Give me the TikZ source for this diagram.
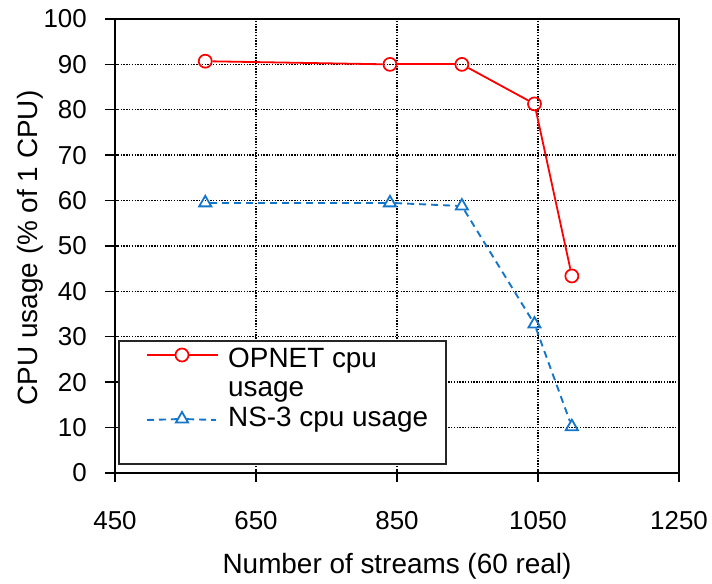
\documentclass[tikz,border=0pt]{standalone}
\usepackage{fontspec}
\setmainfont{Liberation Sans}
\usetikzlibrary{shapes.geometric}
\definecolor{nsblue}{RGB}{20,118,200}
\tikzset{
  gridline/.style={black, line width=1.4bp, dash pattern=on 1.4bp off 1.4bp},
  axisline/.style={black, line width=1.8bp},
  tickmark/.style={black, line width=1.4bp},
  ticklab/.style={font=\fontsize{26}{26}\selectfont, inner sep=0pt},
  axislab/.style={font=\fontsize{28}{28}\selectfont, inner sep=0pt},
  legtext/.style={font=\fontsize{28}{28}\selectfont, inner sep=0pt, anchor=base west},
  legendbox/.style={draw=black!85, line width=1.8bp, fill=white, inner sep=0pt, anchor=south west},
  opline/.style={red, line width=1.8bp},
  nsline/.style={nsblue, line width=1.9bp, dash pattern=on 7bp off 5bp},
  opmark/.style={circle, draw=red, line width=1.7bp, minimum size=13bp, inner sep=0pt},
  nsmark/.style={regular polygon, regular polygon sides=3, draw=nsblue, line width=1.8bp, minimum size=14bp, inner sep=0pt}
}
\begin{document}
\begin{tikzpicture}[x=1bp,y=1bp]
\useasboundingbox (0,0) rectangle (712,584);
\begin{scope}[shift={(-202.25,111)}, x=0.705bp, y=4.54bp]
  % grid
  \foreach \yy in {10,20,...,90} \draw[gridline] (450,\yy) -- (1250,\yy);
  \foreach \xx in {650,850,1050} \draw[gridline] (\xx,0) -- (\xx,100);
\end{scope}
% legend box
\node[legendbox, minimum width=327bp, minimum height=123bp] (legend) at (118,119) {};
\begin{scope}[shift={(-202.25,111)}, x=0.705bp, y=4.54bp]
  % frame
  \draw[axisline] (450,0) rectangle (1250,100);
  % ticks and labels
  \foreach \yy in {0,10,...,100} {
    \draw[tickmark] (450,\yy) ++(-10bp,0) -- ++(13bp,0);
    \node[ticklab, anchor=east] (yl\yy) at (450,\yy) [xshift=-28bp] {\yy};
  }
  \foreach \xx in {450,650,850,1050,1250} {
    \draw[tickmark] (\xx,0) ++(0,-9bp) -- ++(0,12bp);
    \node[ticklab, anchor=base] (xl\xx) at (\xx,0) [yshift=-57bp] {\xx};
  }
  % OPNET data
  \node[opmark] (o1) at (578,90.7) {};
  \node[opmark] (o2) at (840,90) {};
  \node[opmark] (o3) at (942,90) {};
  \node[opmark] (o4) at (1045,81.3) {};
  \node[opmark] (o5) at (1098,43.4) {};
  \draw[opline] (o1) -- (o2);
  \draw[opline] (o2) -- (o3);
  \draw[opline] (o3) -- (o4);
  \draw[opline] (o4) -- (o5);
  % NS-3 data
  \node[nsmark] (n1) at (578,59.5) {};
  \node[nsmark] (n2) at (840,59.5) {};
  \node[nsmark] (n3) at (942,58.8) {};
  \node[nsmark] (n4) at (1045,32.8) {};
  \node[nsmark] (n5) at (1098,10.2) {};
  \draw[nsline] (n1) -- (n2);
  \draw[nsline] (n2) -- (n3);
  \draw[nsline] (n3) -- (n4);
  \draw[nsline] (n4) -- (n5);
\end{scope}
% axis labels
\node[axislab, anchor=base] (xlabel) at (397,10) {Number of streams (60 real)};
\node[axislab, anchor=base, rotate=90] (ylabel) at (37,336) {CPU usage (\% of 1 CPU)};
% legend entries
\coordinate (la1) at (147,229);
\coordinate (lb1) at (218,229);
\node[opmark] (lm1) at (182,229) {};
\draw[opline] (la1) -- (lm1);
\draw[opline] (lm1) -- (lb1);
\node[legtext] (lt1) at (228,216) {OPNET cpu};
\node[legtext] (lt2) at (228,187) {usage};
\coordinate (la2) at (147,164);
\coordinate (lb2) at (216,164);
\node[nsmark] (lm2) at (182,165) {};
\draw[nsline] (la2) -- (lm2);
\draw[nsline] (lm2) -- (lb2);
\node[legtext] (lt3) at (228,157) {NS-3 cpu usage};
\end{tikzpicture}
\end{document}
